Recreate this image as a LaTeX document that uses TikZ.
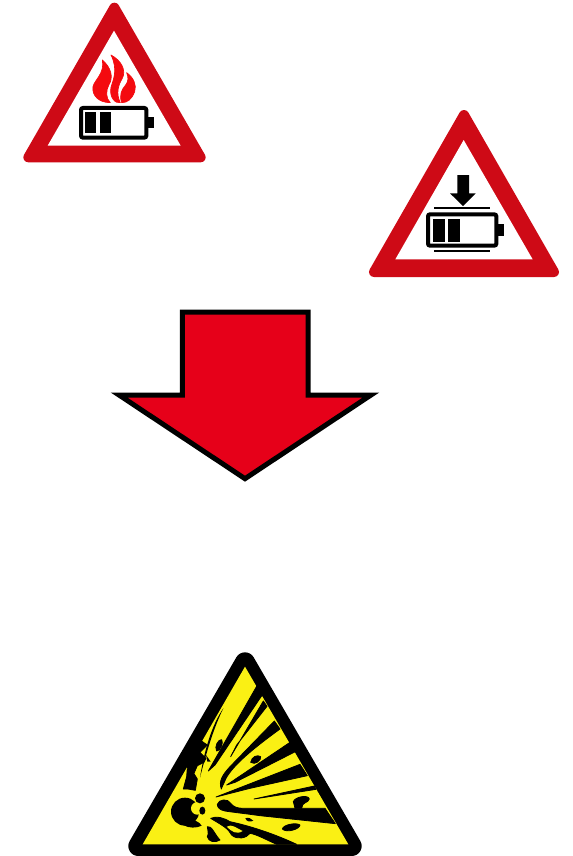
\documentclass[tikz,border=0pt]{standalone}
\definecolor{signred}{HTML}{CE0A16}
\definecolor{flamered}{HTML}{F40A0F}
\definecolor{arrowred}{HTML}{E60019}
\definecolor{warnyellow}{HTML}{FAF014}
\tikzset{
  outer/.style={fill=signred,draw=signred,line join=round},
  inner/.style={fill=white,line join=miter},
  ink/.style={fill=black,draw=black,line width=0.6pt,line join=round},
  yel/.style={fill=warnyellow,draw=none},
  flame/.style={fill=flamered,draw=flamered,line width=0.5pt,line join=round},
}
\begin{document}
\begin{tikzpicture}[x=0.75pt,y=-0.75pt]
\useasboundingbox (0,0) rectangle (572,856);
\fill[white] (0,0) rectangle (572,856);
\clip (0,0) rectangle (572,856);

% ---- sign 1: battery on fire
\begin{scope}[shift={(10,0)},scale=1/3]
\draw[outer,line width=7.5pt] (313,23) -- (55,472) -- (572,472) -- cycle;
\fill[inner] (312,92) -- (113,437) -- (512,437) -- cycle;
\draw[black,line width=3pt,rounded corners=1.5pt] (213,324) rectangle (409,413);
\fill[black] (412,352) rectangle (432,384);
\fill[black] (226,337) rectangle (258,400);
\fill[black] (271,337) rectangle (304,400);
\begin{scope}[shift={(225,150)}]
\draw[flame] (76,158) .. controls (40,158) and (20,135) .. (24,110)
  .. controls (28,90) and (60,70) .. (52,30)
  .. controls (78,52) and (86,82) .. (72,104)
  .. controls (62,122) and (62,145) .. (76,158) -- cycle;
\draw[flame] (78,15) .. controls (110,32) and (124,62) .. (112,85)
  .. controls (100,105) and (92,130) .. (106,158)
  .. controls (90,162) and (72,140) .. (78,112)
  .. controls (84,90) and (100,60) .. (78,15) -- cycle;
\draw[flame] (125,68) .. controls (145,82) and (156,105) .. (149,125)
  .. controls (140,148) and (128,158) .. (110,158)
  .. controls (102,135) and (110,118) .. (122,105)
  .. controls (130,95) and (131,82) .. (125,68) -- cycle;
\end{scope}
\end{scope}

% ---- sign 2: battery under pressure
\begin{scope}[shift={(360,105)},scale=1/3]
\draw[outer,line width=7.5pt] (312,30) -- (42,501) -- (582,501) -- cycle;
\fill[inner] (311,105) -- (106,463) -- (518,463) -- cycle;
\draw[black,line width=3pt,rounded corners=1.5pt] (204,328) rectangle (409,422);
\fill[black] (412,358) rectangle (431,392);
\fill[black] (219,342) rectangle (254,410);
\fill[black] (265,342) rectangle (300,410);
\fill[black] (222,306) rectangle (390,312);
\fill[black] (222,436) rectangle (390,441);
\fill[black] (292,210) -- (327,210) -- (327,265) -- (347,265) -- (309,303) -- (270,265) -- (292,265) -- cycle;
\end{scope}

% ---- block arrow
\begin{scope}[shift={(105,300)},scale=1/3]
\draw[fill=arrowred,draw=black,line width=3.75pt,miter limit=10]
  (232,36) -- (609,36) -- (609,285) -- (798,285) -- (420,536) -- (42,285) -- (232,285) -- cycle;
\end{scope}

% ---- explosive sign
\begin{scope}[shift={(120,645)},scale=1/3]
\draw[fill=black,draw=black,line join=round,line width=15pt] (375,52) -- (55,603) -- (695,603) -- cycle;
\fill[yel] (375,65) -- (68,598) -- (685,598) -- cycle;
% rays
\draw[ink] (415,115) -- (432,142) -- (285,360) -- (265,378) -- cycle;
\draw[ink] (430,168) -- (441,184) -- (350,300) -- (332,335) -- cycle;
\draw[ink] (463,228) -- (480,252) .. controls (400,310) and (340,360) .. (318,400) .. controls (312,415) and (306,425) .. (304,432) .. controls (296,410) and (305,392) .. (330,365) -- cycle;
\draw[ink] (510,292) -- (526,320) -- (345,412) -- (320,420) -- cycle;
\draw[ink] (540,358) -- (562,392) -- (390,430) -- (288,456) -- cycle;
\draw[ink] (583,423) -- (588,433) -- (402,462) -- cycle;
\draw[ink] (292,478) .. controls (296,462) and (325,460) .. (332,475) .. controls (340,485) and (350,490) .. (370,490)
  -- (615,490) -- (646,536) -- (420,512) .. controls (370,505) and (340,502) .. (315,498) .. controls (300,495) and (292,488) .. (292,478) -- cycle;
\draw[ink] (272,520) .. controls (290,512) and (310,518) .. (330,530) .. controls (400,545) and (470,570) .. (530,598)
  -- (470,598) .. controls (440,585) and (410,568) .. (390,565)
  .. controls (380,580) and (350,585) .. (335,570) .. controls (325,550) and (305,540) .. (272,520) -- cycle;
\fill[yel] (320,545) .. controls (335,535) and (350,550) .. (368,558) .. controls (350,570) and (335,560) .. (320,545) -- cycle;
\draw[ink] (262,545) .. controls (275,540) and (285,570) .. (300,585) .. controls (285,595) and (265,590) .. (262,575) .. controls (268,565) and (262,555) .. (262,545) -- cycle;
% crater and debris
\fill[black] (195,500) circle (42);
\fill[black] (205,525) .. controls (225,525) and (238,530) .. (245,542) .. controls (230,550) and (205,550) .. (190,540) -- cycle;
\fill[yel] (232,490) circle (19);
\fill[black] (240,460) circle (15);
\fill[black] (247,497) ellipse (9 and 12);
\draw[ink] (203,356) -- (232,402) -- (226,436) -- (204,432) -- (190,432) -- (200,395) -- cycle;
\draw[ink] (240,285) -- (262,300) -- (240,322) -- (258,340) -- (252,352) -- (232,362) -- (222,385) -- (205,360) -- cycle;
\fill[black] (310,190) .. controls (285,240) and (262,310) .. (240,398) .. controls (252,320) and (275,240) .. (310,190) -- cycle;
\draw[ink] (290,318) .. controls (282,305) and (295,282) .. (305,284) .. controls (312,292) and (300,320) .. (290,318) -- cycle;
\fill[black] (258,330) -- (272,350) -- (262,350) -- cycle;
% right-hand blobs
\draw[ink] (392,352) .. controls (395,335) and (412,328) .. (422,335) .. controls (425,345) and (405,362) .. (392,352) -- cycle;
\draw[ink] (520,470) .. controls (525,455) and (565,448) .. (568,462) .. controls (565,475) and (545,470) .. (545,490) -- (525,490) -- cycle;
\draw[ink] (487,552) .. controls (490,538) and (530,532) .. (540,540) .. controls (540,552) and (500,565) .. (487,552) -- cycle;
\fill[black] (376,520) .. controls (385,515) and (395,522) .. (400,527) .. controls (390,532) and (380,530) .. (376,520) -- cycle;
\end{scope}
\end{tikzpicture}
\end{document}
